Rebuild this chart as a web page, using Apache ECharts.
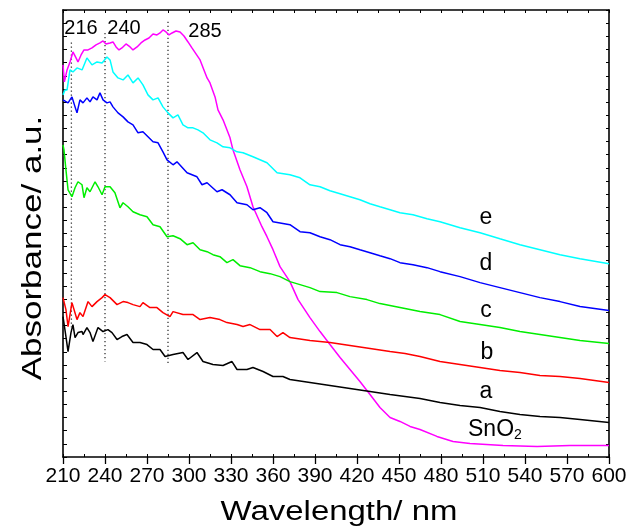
<!DOCTYPE html>
<html>
<head>
<meta charset="utf-8">
<script src="https://cdn.jsdelivr.net/npm/echarts@6/dist/echarts.min.js"></script>
<style>
  html, body { margin: 0; padding: 0; background: #ffffff; }
  #chart { width: 631px; height: 529px; }
</style>
</head>
<body>
<div id="chart"></div>
<script>
// UV-Vis absorbance spectra: pure SnO2 and samples a-e (arbitrary units, offset curves)
const FONT = '"Liberation Sans", Arial, Helvetica, sans-serif';

const wavelengthMin = 210;
const wavelengthMax = 600;
const wavelengthStep = 30;
const absorbanceMin = 0;
const absorbanceMax = 44.76;
const absorbanceTick = 1.316;

// [wavelength nm, absorbance a.u.]
const specSnO2 = [
  [210,39.26],[211,37.56],[212.9,38.76],[215,39.56],[217.1,40.56],[219.3,39.96],[220.7,39.56],
  [222.9,40.26],[225,40.76],[227.9,40.76],[230.7,40.96],[233.6,41.26],[236.4,41.46],[238.6,41.66],
  [240.7,41.36],[243.6,41.46],[245.7,41.56],[247.9,41.06],[250,40.76],[252.1,40.96],[255,41.36],
  [257.9,41.06],[260,40.76],[262.9,41.06],[265.7,41.46],[268.6,41.76],[271.4,41.96],[274.3,42.36],
  [277.1,42.26],[279.3,42.46],[281.4,42.76],[283.6,42.56],[285.7,42.26],[287.9,42.46],[290.7,42.66],
  [293.6,42.56],[296.4,42.16],[299.3,41.56],[302.1,40.96],[307.9,39.76],[312.9,37.96],[315,37.46],
  [318.6,36.06],[320.7,34.76],[324.3,33.76],[329.3,31.96],[331.4,30.76],[336.4,28.76],[341.4,27.06],
  [345.7,25.06],[352.1,23.06],[355.7,22.06],[360,20.76],[365,19.06],[372.1,17.56],[377.9,15.76],
  [386.4,13.96],[393.6,12.56],[400.7,11.26],[407.9,9.96],[415,8.76],[422.1,7.56],[429.3,6.26],
  [436.4,4.96],[443.6,3.96],[450.7,3.56],[457.9,3.06],[465,2.76],[477.1,2.06],[488.6,1.56],
  [500.7,1.36],[524.3,1.16],[548.6,1.06],[572.1,1.16],[600,1.16]
];

const specA = [
  [210,14.06],[212.1,12.06],[213.6,10.56],[215.7,12.46],[217.1,13.26],[218.6,11.96],[220.7,12.46],
  [223.6,12.56],[224.3,12.26],[227.1,12.96],[229.3,12.46],[231.4,11.56],[235,12.96],[238.6,12.56],
  [242.1,12.76],[245,12.46],[248.6,11.76],[252.1,12.06],[255.7,12.26],[260,11.46],[265,11.46],
  [270,11.26],[274.3,10.76],[279.3,10.76],[282.9,10.06],[288.6,10.26],[295.7,10.46],[299.3,9.76],
  [305.7,10.46],[310,9.56],[317.1,9.26],[324.3,9.16],[330.7,9.56],[334.3,8.76],[341.4,8.76],
  [345.7,8.96],[352.9,8.56],[360,8.06],[367.1,8.06],[372.1,7.76],[386.4,7.46],[400.7,7.16],
  [415,6.86],[429.3,6.56],[443.6,6.26],[454.3,6.06],[465,5.86],[479.3,5.46],[493.6,5.16],
  [507.9,4.96],[522.1,4.56],[536.4,4.26],[550.7,4.06],[565,3.96],[579.3,3.76],[600,3.46]
];

const specB = [
  [210,15.96],[212.1,14.76],[213.6,13.06],[216.4,15.46],[217.1,15.56],[220,13.76],[222.1,14.46],
  [224.3,14.06],[227.9,15.56],[230.7,15.06],[234.3,15.56],[237.9,15.96],[240,16.26],[243.6,15.96],
  [248.6,15.26],[252.9,15.56],[256.4,15.46],[260,15.26],[265,15.06],[267.1,15.46],[272.1,14.96],
  [277.1,14.96],[281.4,14.46],[286.4,14.06],[288.6,14.56],[295.7,14.26],[302.9,14.26],[307.9,13.76],
  [315,13.96],[322.1,13.76],[327.1,13.46],[334.3,13.26],[338.6,13.06],[343.6,13.26],[350.7,12.76],
  [357.9,12.76],[362.9,12.06],[367.1,12.46],[372.1,11.96],[386.4,11.66],[400.7,11.46],[415,11.16],
  [429.3,10.86],[443.6,10.56],[454.3,10.36],[465,10.06],[479.3,9.56],[493.6,9.26],[507.9,8.96],
  [522.1,8.66],[536.4,8.46],[550.7,8.16],[565,8.06],[579.3,7.86],[600,7.46]
];

const specC = [
  [210,31.26],[210.7,30.76],[212.1,28.76],[213.6,26.76],[216.4,26.06],[218.6,26.96],[220.7,27.56],
  [223.6,27.26],[225,25.96],[227.1,26.96],[229.3,26.56],[232.9,27.56],[235,27.06],[237.9,26.26],
  [240,27.06],[243.6,27.06],[247.1,26.46],[250.7,24.96],[252.9,25.46],[256.4,25.06],[260,24.56],
  [265,24.26],[270,24.06],[274.3,23.26],[279.3,23.06],[284.3,22.06],[288.6,22.16],[293.6,21.86],
  [298.6,21.26],[302.9,21.46],[307.9,20.76],[312.9,20.56],[317.1,20.26],[322.1,20.06],[327.1,19.46],
  [331.4,19.76],[336.4,19.16],[343.6,18.96],[350.7,18.56],[357.9,18.36],[365,18.06],[372.1,17.56],
  [379.3,17.26],[386.4,16.96],[393.6,16.56],[405.7,16.46],[415,16.06],[427.1,15.76],[436.4,15.36],
  [450.7,14.96],[465,14.56],[479.3,14.26],[493.6,13.56],[507.9,13.26],[522.1,12.96],[536.4,12.56],
  [550.7,12.26],[565,11.96],[579.3,11.66],[600,11.36]
];

const specD = [
  [210,35.76],[211.4,35.76],[213.6,35.46],[216.4,36.06],[218.6,35.06],[220,34.46],[222.1,35.76],
  [224.3,35.46],[227.1,35.96],[229.3,35.56],[231.4,36.06],[234.3,35.76],[236.4,36.46],[238.6,35.76],
  [241.4,35.46],[243.6,35.56],[245.7,35.06],[249.3,34.46],[252.9,34.06],[256.4,33.56],[260,33.26],
  [263.6,32.46],[267.1,32.56],[270.7,32.06],[274.3,31.56],[277.9,31.46],[281.4,30.56],[284.3,29.76],
  [288.6,29.26],[291.4,29.56],[298.6,28.46],[305.7,28.06],[309.3,27.26],[312.9,27.46],[320,26.56],
  [323.6,26.76],[329.3,26.26],[334.3,25.46],[341.4,25.26],[345.7,24.76],[350.7,24.96],[355.7,24.46],
  [360,23.56],[372.1,23.26],[379.3,22.56],[386.4,22.46],[393.6,22.06],[400.7,21.76],[407.9,21.26],
  [415,21.06],[422.1,20.76],[429.3,20.46],[436.4,20.16],[443.6,19.86],[450.7,19.46],[460,19.26],
  [470,18.96],[479.3,18.56],[493.6,18.06],[507.9,17.46],[522.1,16.96],[536.4,16.46],[550.7,15.96],
  [565,15.56],[579.3,15.06],[600,14.66]
];

const specE = [
  [210,36.26],[211.4,36.76],[212.9,36.76],[215,38.76],[217.1,38.56],[220,38.96],[223.6,38.76],
  [227.1,39.96],[230.7,39.26],[234.3,39.56],[237.9,39.46],[241.4,40.06],[243.6,39.76],[245.7,38.56],
  [249.3,37.96],[252.9,37.76],[256.4,38.26],[260,37.46],[263.6,37.96],[267.1,37.26],[270.7,36.26],
  [274.3,35.76],[277.9,35.96],[281.4,35.06],[285,34.46],[288.6,33.96],[292.1,34.26],[295.7,33.26],
  [299.3,32.96],[302.9,32.96],[306.4,32.76],[310,32.46],[315,31.76],[320,31.46],[324.3,31.06],
  [329.3,30.96],[334.3,30.56],[338.6,30.46],[345.7,30.06],[355.7,29.46],[362.9,28.46],[372.1,28.26],
  [379.3,27.96],[386.4,27.26],[393.6,27.06],[400.7,26.66],[407.9,26.36],[415,26.06],[422.1,25.76],
  [429.3,25.36],[436.4,25.06],[443.6,24.76],[450.7,24.46],[460,24.26],[470,23.86],[479.3,23.56],
  [493.6,22.96],[507.9,22.46],[522.1,21.86],[536.4,21.26],[550.7,20.76],[565,20.26],[579.3,19.86],
  [600,19.36]
];

// Peak guide lines: wavelength and vertical extent (a.u.)
const peakWavelengths = [216, 240, 285];
const peakSpans = [[41.5, 13.0], [42.46, 9.56], [43.59, 9.26]];

const curves = [
  { name: 'SnO2', data: specSnO2, color: '#ff00ff' },
  { name: 'a', data: specA, color: '#000000' },
  { name: 'b', data: specB, color: '#ff0000' },
  { name: 'c', data: specC, color: '#00ee00' },
  { name: 'd', data: specD, color: '#0000ff' },
  { name: 'e', data: specE, color: '#00ffff' }
];

const chart = echarts.init(document.getElementById('chart'), null, { renderer: 'canvas' });

const frameLine = { show: true, onZero: false, lineStyle: { color: '#000', width: 1.6 } };

const series = curves.map(c => ({
  name: c.name,
  type: 'line',
  data: c.data,
  showSymbol: false,
  symbol: 'none',
  smooth: false,
  silent: true,
  animation: false,
  lineStyle: { color: c.color, width: 1.5 },
  z: 3
}));

peakWavelengths.forEach((wl, i) => {
  series.push({
    name: 'peak ' + wl,
    type: 'line',
    data: [[wl, peakSpans[i][0]], [wl, peakSpans[i][1]]],
    symbol: 'none',
    silent: true,
    animation: false,
    lineStyle: { color: '#333', width: 1.3, type: [1.3, 2.7] },
    z: 2
  });
});

const option = {
  backgroundColor: '#ffffff',
  animation: false,
  grid: { left: 63, right: 22, top: 10, bottom: 72, containLabel: false },
  xAxis: [
    {
      type: 'value', position: 'bottom',
      min: wavelengthMin, max: wavelengthMax, interval: wavelengthStep,
      axisLine: frameLine,
      axisTick: { show: true, inside: false, length: 7, lineStyle: { color: '#000', width: 1.3 } },
      axisLabel: { show: true, color: '#000', fontFamily: FONT, fontSize: 21, margin: 9 },
      splitLine: { show: false }
    },
    {
      type: 'value', position: 'bottom',
      min: wavelengthMin, max: wavelengthMax, interval: wavelengthStep / 2,
      axisLine: { show: false },
      axisTick: { show: true, inside: true, length: 3, lineStyle: { color: '#000', width: 1 } },
      axisLabel: { show: false },
      splitLine: { show: false }
    },
    {
      type: 'value', position: 'top',
      min: wavelengthMin, max: wavelengthMax, interval: wavelengthStep / 2,
      axisLine: frameLine,
      axisTick: { show: true, inside: true, length: 3, lineStyle: { color: '#000', width: 1 } },
      axisLabel: { show: false },
      splitLine: { show: false }
    }
  ],
  yAxis: [
    {
      type: 'value', position: 'left',
      min: absorbanceMin, max: absorbanceMax, interval: absorbanceTick,
      axisLine: frameLine,
      axisTick: { show: true, inside: true, length: 4, lineStyle: { color: '#000', width: 1 } },
      axisLabel: { show: false },
      splitLine: { show: false }
    },
    {
      type: 'value', position: 'right',
      min: absorbanceMin, max: absorbanceMax, interval: absorbanceTick,
      axisLine: frameLine,
      axisTick: { show: true, inside: true, length: 3, lineStyle: { color: '#000', width: 1 } },
      axisLabel: { show: false },
      splitLine: { show: false }
    }
  ],
  series: series,
  graphic: [
    // axis titles
    {
      type: 'text', x: 339, y: 513, scaleX: 1.22,
      style: { text: 'Wavelength/ nm', font: '27px ' + FONT, fill: '#000', align: 'center', verticalAlign: 'middle' }
    },
    {
      type: 'text', x: 33, y: 248, rotation: Math.PI / 2, scaleX: 1.25,
      style: { text: 'Absorbance/ a.u.', font: '28px ' + FONT, fill: '#000', align: 'center', verticalAlign: 'middle' }
    },
    // peak labels
    { type: 'text', x: 81, y: 28, style: { text: '216', font: '20px ' + FONT, fill: '#000', align: 'center', verticalAlign: 'middle' } },
    { type: 'text', x: 124, y: 28, style: { text: '240', font: '20px ' + FONT, fill: '#000', align: 'center', verticalAlign: 'middle' } },
    { type: 'text', x: 205, y: 31, style: { text: '285', font: '20px ' + FONT, fill: '#000', align: 'center', verticalAlign: 'middle' } },
    // curve labels
    { type: 'text', x: 486, y: 218, style: { text: 'e', font: '23px ' + FONT, fill: '#000', align: 'center', verticalAlign: 'middle' } },
    { type: 'text', x: 486, y: 264, style: { text: 'd', font: '23px ' + FONT, fill: '#000', align: 'center', verticalAlign: 'middle' } },
    { type: 'text', x: 486, y: 311, style: { text: 'c', font: '23px ' + FONT, fill: '#000', align: 'center', verticalAlign: 'middle' } },
    { type: 'text', x: 487, y: 353, style: { text: 'b', font: '23px ' + FONT, fill: '#000', align: 'center', verticalAlign: 'middle' } },
    { type: 'text', x: 486, y: 392, style: { text: 'a', font: '23px ' + FONT, fill: '#000', align: 'center', verticalAlign: 'middle' } },
    {
      type: 'text', x: 468, y: 430,
      style: {
        text: 'SnO{sub|2}', font: '23px ' + FONT, fill: '#000', align: 'left', verticalAlign: 'middle',
        rich: { sub: { fontFamily: FONT, fontSize: 14, fill: '#000', verticalAlign: 'bottom', padding: [10, 0, 0, 0] } }
      }
    }
  ]
};

chart.setOption(option);
</script>
</body>
</html>
